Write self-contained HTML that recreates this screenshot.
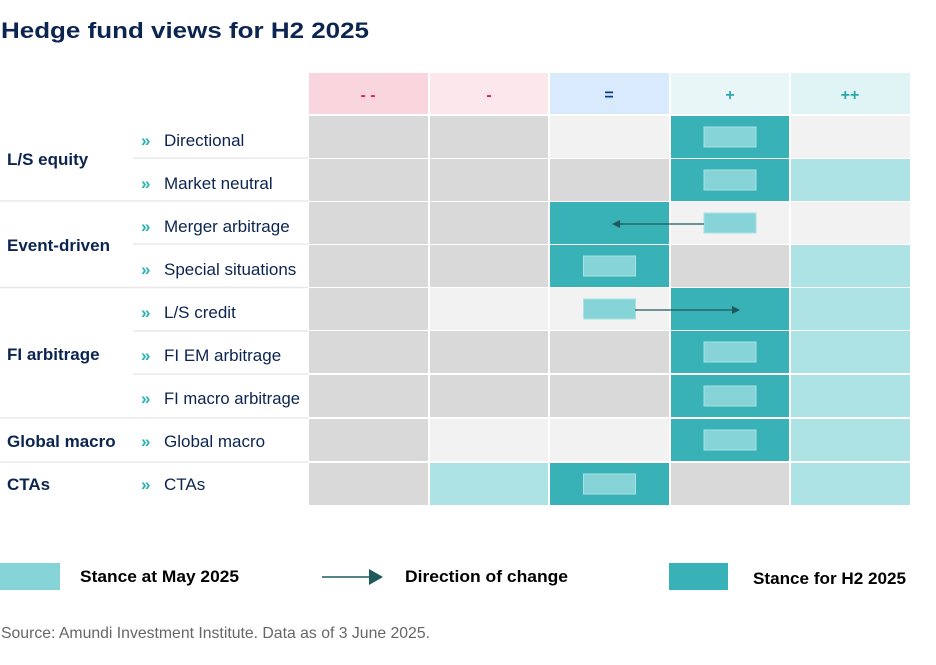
<!DOCTYPE html>
<html><head><meta charset="utf-8"><style>
body{margin:0;background:#fff;}
svg{display:block;font-family:"Liberation Sans",sans-serif;}
</style></head><body>
<svg width="936" height="665" viewBox="0 0 936 665" xmlns="http://www.w3.org/2000/svg">
<rect width="936" height="665" fill="#fff"/>
<text x="1" y="38" font-size="22" font-weight="bold" fill="#0b2450" textLength="368" lengthAdjust="spacingAndGlyphs">Hedge fund views for H2 2025</text>

<rect x="309" y="73" width="119" height="41" fill="#f9d6de"/>
<rect x="430" y="73" width="118" height="41" fill="#fce8ec"/>
<rect x="550" y="73" width="119" height="41" fill="#d8eafc"/>
<rect x="671" y="73" width="118" height="41" fill="#e8f6f7"/>
<rect x="791" y="73" width="119" height="41" fill="#e1f4f5"/>
<g font-size="16" font-weight="bold" text-anchor="middle">
<text x="368" y="100" fill="#e0234e">- -</text>
<text x="489" y="100" fill="#e0234e">-</text>
<text x="609" y="100" fill="#0b3a8a">=</text>
<text x="730" y="100" fill="#2aa9ad">+</text>
<text x="850" y="100" fill="#2aa9ad">++</text>
</g>

<g stroke="#e8e8e8" stroke-width="1.5">
<line x1="0" y1="201" x2="308" y2="201"/>
<line x1="0" y1="287.5" x2="308" y2="287.5"/>
<line x1="0" y1="418" x2="308" y2="418"/>
<line x1="0" y1="462" x2="308" y2="462"/>
<line x1="133" y1="158" x2="308" y2="158"/>
<line x1="133" y1="244" x2="308" y2="244"/>
<line x1="133" y1="331" x2="308" y2="331"/>
<line x1="133" y1="374" x2="308" y2="374"/>
</g>

<!-- row 1 Directional GGLDL -->
<g>
<rect x="309" y="116" width="119" height="42" fill="#d9d9d9"/><rect x="430" y="116" width="118" height="42" fill="#d9d9d9"/><rect x="550" y="116" width="119" height="42" fill="#f2f2f2"/><rect x="671" y="116" width="118" height="42" fill="#38b2b6"/><rect x="791" y="116" width="119" height="42" fill="#f2f2f2"/>
<!-- row 2 GGGDT -->
<rect x="309" y="159" width="119" height="42" fill="#d9d9d9"/><rect x="430" y="159" width="118" height="42" fill="#d9d9d9"/><rect x="550" y="159" width="119" height="42" fill="#d9d9d9"/><rect x="671" y="159" width="118" height="42" fill="#38b2b6"/><rect x="791" y="159" width="119" height="42" fill="#ade3e4"/>
<!-- row 3 GGDLL -->
<rect x="309" y="202" width="119" height="42" fill="#d9d9d9"/><rect x="430" y="202" width="118" height="42" fill="#d9d9d9"/><rect x="550" y="202" width="119" height="42" fill="#38b2b6"/><rect x="671" y="202" width="118" height="42" fill="#f2f2f2"/><rect x="791" y="202" width="119" height="42" fill="#f2f2f2"/>
<!-- row 4 GGDGT -->
<rect x="309" y="245" width="119" height="42" fill="#d9d9d9"/><rect x="430" y="245" width="118" height="42" fill="#d9d9d9"/><rect x="550" y="245" width="119" height="42" fill="#38b2b6"/><rect x="671" y="245" width="118" height="42" fill="#d9d9d9"/><rect x="791" y="245" width="119" height="42" fill="#ade3e4"/>
<!-- row 5 GLLDT -->
<rect x="309" y="288" width="119" height="42" fill="#d9d9d9"/><rect x="430" y="288" width="118" height="42" fill="#f2f2f2"/><rect x="550" y="288" width="119" height="42" fill="#f2f2f2"/><rect x="671" y="288" width="118" height="42" fill="#38b2b6"/><rect x="791" y="288" width="119" height="42" fill="#ade3e4"/>
<!-- row 6 GGGDT -->
<rect x="309" y="331" width="119" height="42" fill="#d9d9d9"/><rect x="430" y="331" width="118" height="42" fill="#d9d9d9"/><rect x="550" y="331" width="119" height="42" fill="#d9d9d9"/><rect x="671" y="331" width="118" height="42" fill="#38b2b6"/><rect x="791" y="331" width="119" height="42" fill="#ade3e4"/>
<!-- row 7 GGGDT -->
<rect x="309" y="375" width="119" height="42" fill="#d9d9d9"/><rect x="430" y="375" width="118" height="42" fill="#d9d9d9"/><rect x="550" y="375" width="119" height="42" fill="#d9d9d9"/><rect x="671" y="375" width="118" height="42" fill="#38b2b6"/><rect x="791" y="375" width="119" height="42" fill="#ade3e4"/>
<!-- row 8 GLLDT -->
<rect x="309" y="419" width="119" height="42" fill="#d9d9d9"/><rect x="430" y="419" width="118" height="42" fill="#f2f2f2"/><rect x="550" y="419" width="119" height="42" fill="#f2f2f2"/><rect x="671" y="419" width="118" height="42" fill="#38b2b6"/><rect x="791" y="419" width="119" height="42" fill="#ade3e4"/>
<!-- row 9 GTDGT -->
<rect x="309" y="463" width="119" height="42" fill="#d9d9d9"/><rect x="430" y="463" width="118" height="42" fill="#ade3e4"/><rect x="550" y="463" width="119" height="42" fill="#38b2b6"/><rect x="671" y="463" width="118" height="42" fill="#d9d9d9"/><rect x="791" y="463" width="119" height="42" fill="#ade3e4"/>
</g>
<g fill="#86d4d7" stroke="#a8e2e4" stroke-width="1">
<rect x="704" y="127" width="52" height="20"/>
<rect x="704" y="170" width="52" height="20"/>
<rect x="704" y="213" width="52" height="20"/>
<rect x="583.5" y="256" width="52" height="20"/>
<rect x="583.5" y="299" width="52" height="20"/>
<rect x="704" y="342" width="52" height="20"/>
<rect x="704" y="386" width="52" height="20"/>
<rect x="704" y="430" width="52" height="20"/>
<rect x="583.5" y="474" width="52" height="20"/>
</g>
<g stroke="#1e5a5c" stroke-width="1.3" fill="#1e5a5c">
<line x1="704" y1="224" x2="618" y2="224"/>
<polygon points="612,224 620,220 620,228" stroke="none"/>
<line x1="635" y1="310" x2="734" y2="310"/>
<polygon points="740,310 732,306 732,314" stroke="none"/>
</g>

<g font-size="17" font-weight="bold" fill="#0b2450">
<text x="7" y="165">L/S equity</text>
<text x="7" y="251">Event-driven</text>
<text x="7" y="360">FI arbitrage</text>
<text x="7" y="447">Global macro</text>
<text x="7" y="490">CTAs</text>
</g>
<g font-size="17" fill="#2ab3b3" font-weight="bold">
<text x="141" y="146">»</text><text x="141" y="189">»</text><text x="141" y="232">»</text>
<text x="141" y="275">»</text><text x="141" y="318">»</text><text x="141" y="361">»</text>
<text x="141" y="404">»</text><text x="141" y="447">»</text><text x="141" y="490">»</text>
</g>
<g font-size="17" fill="#0b2450">
<text x="164" y="146">Directional</text>
<text x="164" y="189">Market neutral</text>
<text x="164" y="232">Merger arbitrage</text>
<text x="164" y="275">Special situations</text>
<text x="164" y="318">L/S credit</text>
<text x="164" y="361">FI EM arbitrage</text>
<text x="164" y="404" textLength="136" lengthAdjust="spacingAndGlyphs">FI macro arbitrage</text>
<text x="164" y="447">Global macro</text>
<text x="164" y="490">CTAs</text>
</g>

<rect x="0" y="563" width="60" height="27" fill="#86d4d7"/>
<text x="80" y="582" font-size="17" font-weight="bold" fill="#000" textLength="159" lengthAdjust="spacingAndGlyphs">Stance at May 2025</text>
<line x1="322" y1="577" x2="370" y2="577" stroke="#1e5a5c" stroke-width="1.5"/>
<polygon points="383,577 369,569 369,585" fill="#1e5a5c"/>
<text x="405" y="582" font-size="17" font-weight="bold" fill="#000" textLength="163" lengthAdjust="spacingAndGlyphs">Direction of change</text>
<rect x="669" y="563" width="59" height="27" fill="#38b2b6"/>
<text x="753" y="584" font-size="17" font-weight="bold" fill="#000" textLength="153" lengthAdjust="spacingAndGlyphs">Stance for H2 2025</text>

<text x="1" y="638" font-size="16" fill="#666" textLength="429" lengthAdjust="spacingAndGlyphs">Source: Amundi Investment Institute. Data as of 3 June 2025.</text>
</svg>
</body></html>
